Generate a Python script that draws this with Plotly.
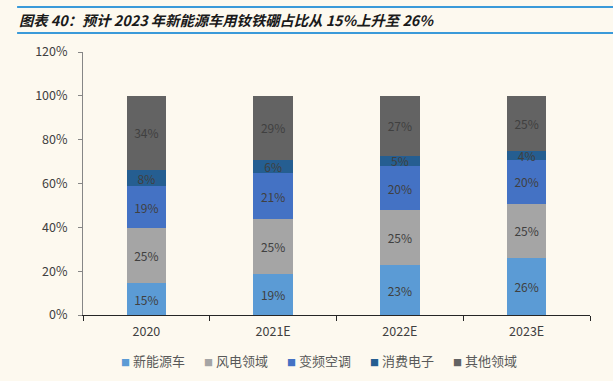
import plotly.graph_objects as go

categories = ["2020", "2021E", "2022E", "2023E"]
series_names = ["新能源车", "风电领域", "变频空调", "消费电子", "其他领域"]
nev = [14.6, 18.8, 22.6, 26.0]
wind = [24.9, 24.8, 25.2, 24.7]
ac = [19.2, 21.2, 20.1, 20.2]
consumer = [7.6, 6.0, 4.8, 4.0]
other = [33.7, 29.2, 27.3, 25.1]
y_ticks = [0, 20, 40, 60, 80, 100, 120]
y_tick_labels = ["0%", "20%", "40%", "60%", "80%", "100%", "120%"]
title_text = "图表 40：预计 2023 年新能源车用钕铁硼占比从 15%上升至 26%"

colors = ["#5B9BD5", "#A5A5A5", "#4472C4", "#255E91", "#636363"]
series_values = [nev, wind, ac, consumer, other]

FONT = "Noto Sans CJK SC, Liberation Sans, sans-serif"
BG = "#FDF9EF"

fig = go.Figure()
for name, vals, col in zip(series_names, series_values, colors):
    fig.add_trace(go.Bar(
        x=categories, y=vals, name=name,
        marker=dict(color=col, line=dict(width=0)),
        text=[f"{v:.0f}%" for v in vals],
        textposition="inside", insidetextanchor="middle", textangle=0,
        textfont=dict(color="#404040", size=12, family=FONT),
        width=0.31, showlegend=False,
    ))

fig.update_layout(
    barmode="stack",
    width=613, height=381,
    margin=dict(l=83, r=23, t=52, b=66, autoexpand=False),
    paper_bgcolor=BG, plot_bgcolor=BG,
    font=dict(family=FONT, color="#404040", size=12),
    uniformtext=dict(minsize=12, mode="show"),
    showlegend=False,
    xaxis=dict(showline=True, linecolor="#262626", linewidth=1, ticks="outside",
               tickson="boundaries", ticklen=5, tickcolor="#262626",
               ticklabelstandoff=5,
               tickfont=dict(size=12.5, color="#404040")),
    yaxis=dict(range=[0, 120], tickvals=y_ticks, ticktext=y_tick_labels,
               showgrid=False, zeroline=False, showline=True, linecolor="#868686",
               linewidth=1, ticks="outside", ticklen=4, tickcolor="#868686",
               ticklabelstandoff=8,
               tickfont=dict(size=12.5, color="#404040")),
)

# Legend (custom, compact like the original)
plot_w = 613 - 83 - 23
for i, (name, col) in enumerate(zip(series_names, colors)):
    fig.add_annotation(
        xref="paper", yref="paper", x=(119 - 83 + i * 83) / plot_w, y=-0.174,
        xanchor="left", yanchor="middle", showarrow=False,
        text=f"<span style='color:{col};font-size:9px'>■</span> {name}",
        font=dict(size=13, color="#595959", family=FONT))

# Title lines and text
fig.add_shape(type="line", xref="paper", yref="paper", x0=-0.130, x1=1.05,
              y0=1.171, y1=1.171, line=dict(color="#3A9AD9", width=2))
fig.add_shape(type="line", xref="paper", yref="paper", x0=-0.130, x1=1.05,
              y0=1.072, y1=1.072, line=dict(color="#3A9AD9", width=2))
fig.add_annotation(xref="paper", yref="paper", x=-0.130, y=1.122, xanchor="left",
                   yanchor="middle", showarrow=False, text=f"<b><i>{title_text}</i></b>",
                   font=dict(size=14.3, color="#1a1a1a", family=FONT))

fig.write_html("out.html", config={"displayModeBar": False},
               post_script="document.body.style.margin='0';document.body.style.background='" + BG + "';")
